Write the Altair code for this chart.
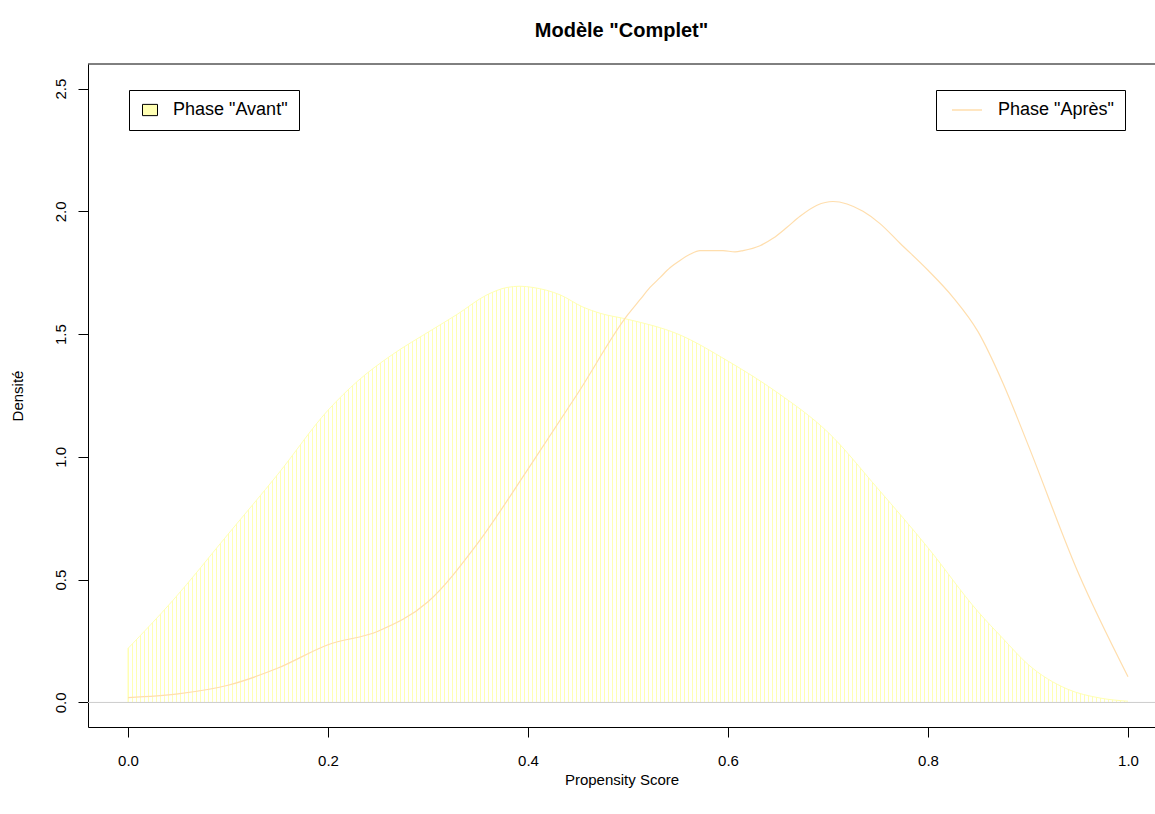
import altair as alt
import pandas as pd

# Kernel density of the propensity score, before the change ("Avant")
score_avant = [0.000, 0.045, 0.100, 0.150, 0.200, 0.230, 0.262, 0.305, 0.329, 0.359,
               0.379, 0.392, 0.405, 0.432, 0.455, 0.472, 0.500, 0.550, 0.600, 0.650,
               0.700, 0.750, 0.800, 0.850, 0.875, 0.900, 0.939, 0.972, 1.000]
dens_avant = [0.22, 0.416, 0.685, 0.93, 1.19, 1.31, 1.41, 1.52, 1.58, 1.66,
              1.69, 1.695, 1.69, 1.66, 1.61, 1.585, 1.56, 1.50, 1.39, 1.26,
              1.10, 0.87, 0.63, 0.37, 0.26, 0.155, 0.055, 0.018, 0.005]

# Kernel density of the propensity score, after the change ("Après")
score_apres = [0.000, 0.050, 0.100, 0.150, 0.200, 0.250, 0.300, 0.350, 0.400, 0.450,
               0.500, 0.512, 0.522, 0.532, 0.542, 0.552, 0.562, 0.572, 0.595, 0.607,
               0.615, 0.632, 0.645, 0.659, 0.672, 0.689, 0.705, 0.719, 0.735, 0.752,
               0.772, 0.800, 0.825, 0.850, 0.875, 0.900, 0.950, 1.000]
dens_apres = [0.02, 0.035, 0.07, 0.14, 0.235, 0.29, 0.41, 0.65, 0.95, 1.26,
              1.58, 1.64, 1.69, 1.73, 1.77, 1.80, 1.825, 1.84, 1.84, 1.835,
              1.84, 1.86, 1.89, 1.935, 1.98, 2.025, 2.04, 2.03, 2.00, 1.95,
              1.87, 1.76, 1.65, 1.51, 1.30, 1.05, 0.53, 0.105]

x_ticks = [0.0, 0.2, 0.4, 0.6, 0.8, 1.0]
y_ticks = [0.0, 0.5, 1.0, 1.5, 2.0, 2.5]

LABEL_AVANT = 'Phase "Avant"'
LABEL_APRES = 'Phase "Après"'

avant = pd.DataFrame({"score": score_avant, "densite": dens_avant, "phase": LABEL_AVANT})
apres = pd.DataFrame({"score": score_apres, "densite": dens_apres, "phase": LABEL_APRES})

FONT = "Liberation Sans"
YELLOW = "#FFFFB3"
ORANGE = "#FFDEAD"
X_DOMAIN = [-0.04, 1.027]
Y_DOMAIN = [-0.1, 2.6]

x_scale = alt.Scale(domain=X_DOMAIN, nice=False, zero=False)
y_scale = alt.Scale(domain=Y_DOMAIN, nice=False, zero=False)

x_axis = alt.Axis(values=x_ticks, format=".1f", title="Propensity Score",
                  titlePadding=4, labelPadding=16)
y_axis = alt.Axis(values=y_ticks, format=".1f", title="Densité",
                  labelAngle=270, labelAlign="center", labelBaseline="bottom",
                  labelPadding=10, titlePadding=28)

base_avant = alt.Chart(avant)

# filled polygon of the "Avant" density
area = base_avant.mark_area(interpolate="monotone").encode(
    x=alt.X("score:Q", scale=x_scale, axis=x_axis),
    y=alt.Y("densite:Q", scale=y_scale, axis=y_axis),
    y2=alt.datum(0),
    fill=alt.Fill(
        "phase:N",
        scale=alt.Scale(domain=[LABEL_AVANT], range=[YELLOW]),
        legend=alt.Legend(
            title=None, orient="none", legendX=41, legendY=26,
            strokeColor="black", fillColor="white", cornerRadius=0, padding=11,
            labelFont=FONT, labelFontSize=18, labelColor="black", labelOffset=14,
            symbolType="M-1,-0.75H1V0.75H-1Z", symbolSize=225, symbolOpacity=1,
            symbolOffset=1, symbolStrokeColor="black", symbolStrokeWidth=1,
        ),
    ),
)

# vertical hatching: white gaps between thin shading lines
hatch = alt.Chart(alt.sequence(0.0025, 1.0, 0.004, as_="s")).mark_rule(
    color="white", strokeWidth=3
).encode(x=alt.X("s:Q", scale=x_scale))

outline = base_avant.mark_line(color=YELLOW, strokeWidth=1, interpolate="monotone").encode(
    x=alt.X("score:Q", scale=x_scale),
    y=alt.Y("densite:Q", scale=y_scale),
)

left_edge = alt.Chart(avant.head(1)).mark_rule(color=YELLOW, strokeWidth=1).encode(
    x=alt.X("score:Q", scale=x_scale),
    y=alt.Y("densite:Q", scale=y_scale),
    y2=alt.datum(0),
)

zero_line = alt.Chart(avant.head(1)).mark_rule(color="#CCCCCC", strokeWidth=1).encode(
    y=alt.datum(0, scale=y_scale)
)

line_apres = alt.Chart(apres).mark_line(strokeWidth=1.2, interpolate="monotone").encode(
    x=alt.X("score:Q", scale=x_scale),
    y=alt.Y("densite:Q", scale=y_scale),
    stroke=alt.Stroke(
        "phase:N",
        scale=alt.Scale(domain=[LABEL_APRES], range=[ORANGE]),
        legend=alt.Legend(
            title=None, orient="none", legendX=848, legendY=26,
            strokeColor="black", fillColor="white", cornerRadius=0, padding=11,
            labelFont=FONT, labelFontSize=18, labelColor="black", labelOffset=22,
            symbolType="M-3,0H3", symbolSize=100, symbolOffset=11,
            symbolStrokeWidth=1.5,
        ),
    ),
)

top_border = alt.Chart(avant.head(1)).mark_rule(color="black", strokeWidth=1).encode(
    y=alt.datum(Y_DOMAIN[1], scale=y_scale)
)

chart = (
    alt.layer(area, hatch, outline, left_edge, zero_line, line_apres, top_border)
    .resolve_legend(fill="independent", stroke="independent")
    .properties(
        width=1067,
        height=663,
        title=alt.TitleParams(
            'Modèle "Complet"', font=FONT, fontSize=20, fontWeight="bold",
            color="black", anchor="middle", offset=22,
        ),
        autosize=alt.AutoSizeParams(type="none"),
        padding={"left": 88, "top": 64, "right": 0, "bottom": 87},
        background="white",
    )
    .configure_view(stroke=None)
    .configure_axis(
        grid=False,
        domainColor="black",
        domainWidth=1,
        tickColor="black",
        tickSize=10,
        tickWidth=1,
        labelFont=FONT,
        labelFontSize=15,
        labelColor="black",
        titleFont=FONT,
        titleFontSize=15,
        titleFontWeight="normal",
        titleColor="black",
    )
)

chart.save("out.html", embed_options={"renderer": "svg", "actions": False})
